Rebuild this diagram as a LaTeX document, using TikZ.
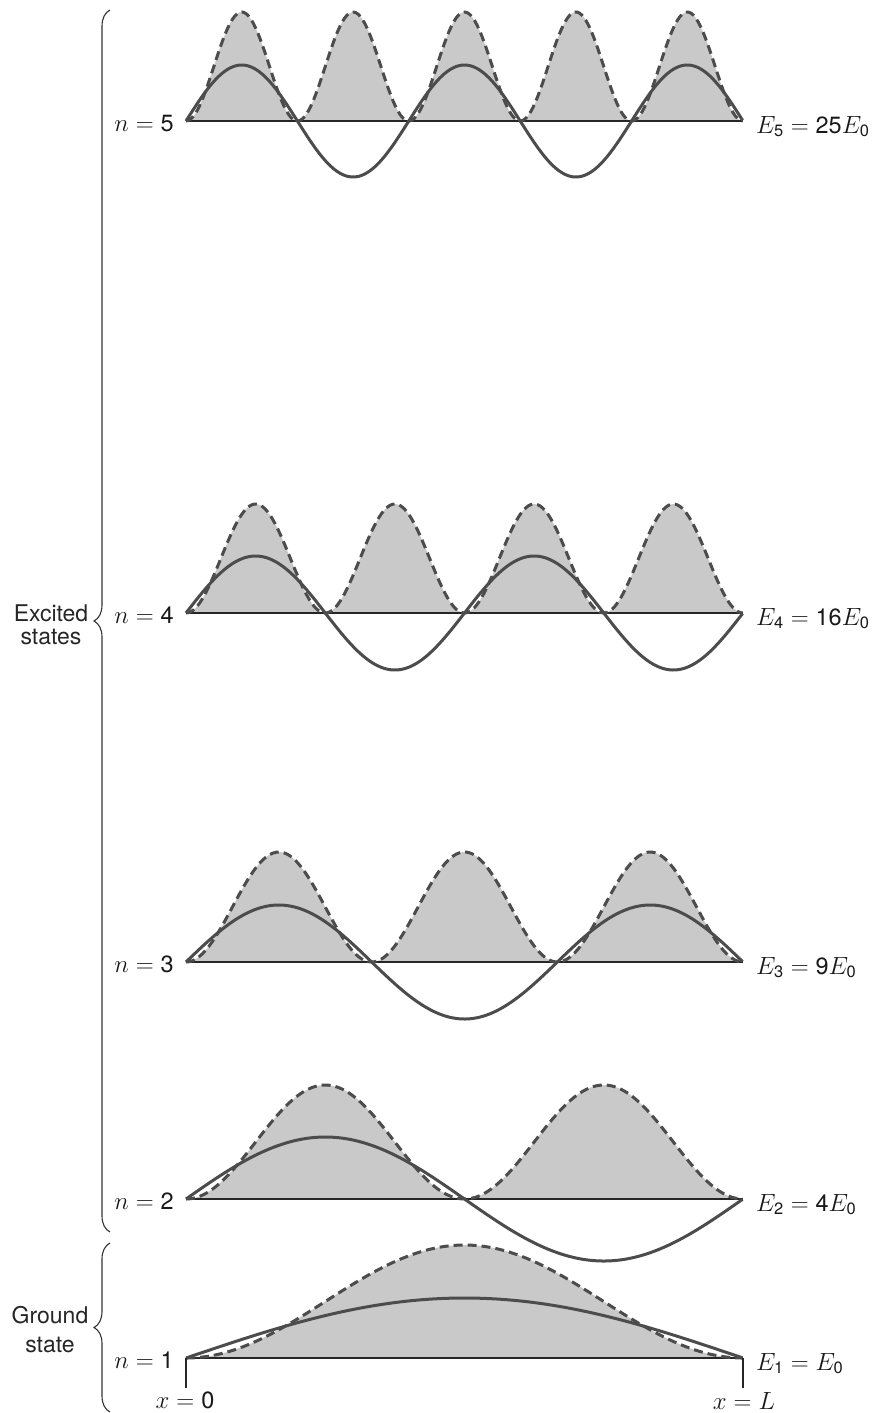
\documentclass[tikz,border=0pt]{standalone}
\usepackage{amsmath}
\usepackage{fontspec}
\setsansfont{TeX Gyre Heros}
\usetikzlibrary{decorations.pathreplacing}
\newcommand\dg[1]{\textsf{#1}}
\newcommand\wavelevel[5]{%
  \coordinate (a#1) at (186,#2);
  \coordinate (b#1) at (743,#2);
  \fill[pfill] plot[domain=0:1,samples=240] ({186+557*\x},{#2-#4*(sin(#1*180*\x))^2}) -- cycle;
  \draw[axisline] (a#1) -- (b#1);
  \draw[probline] plot[domain=0:1,samples=240] ({186+557*\x},{#2-#4*(sin(#1*180*\x))^2});
  \draw[psiline] plot[domain=0:1,samples=240] ({186+557*\x},{#2-#3*sin(#1*180*\x)});
  \node[lab, anchor=base east] (nl#1) at (174,#2+10.5) {$n = \dg{#1}$};
  \node[lab, anchor=base west] (el#1) at (756,#2+12) {#5};
}
\begin{document}
\begin{tikzpicture}[x=1pt,y=-1pt,
  psiline/.style={draw=black!70, line width=3pt},
  probline/.style={draw=black!70, line width=3pt, dash pattern=on 9pt off 5pt},
  pfill/.style={fill=black!21},
  axisline/.style={draw=black!85, line width=1.5pt},
  lab/.style={inner sep=0pt, font=\fontsize{23.5}{27}\selectfont, text=black!90},
  stext/.style={inner sep=0pt, align=center, text=black!85},
  brc/.style={draw=black!80, line width=1.1pt, decorate, decoration={brace, amplitude=16pt}},
]
\useasboundingbox (0,0) rectangle (872,1413);

\wavelevel{5}{121}{56}{109}{$E_{\dg{5}} = \dg{25}E_{\dg{0}}$}
\wavelevel{4}{613}{57}{109}{$E_{\dg{4}} = \dg{16}E_{\dg{0}}$}
\wavelevel{3}{962}{57}{110}{$E_{\dg{3}} = \dg{9}E_{\dg{0}}$}
\wavelevel{2}{1199}{62}{114}{$E_{\dg{2}} = \dg{4}E_{\dg{0}}$}
\wavelevel{1}{1358}{60}{113}{$E_{\dg{1}} = E_{\dg{0}}$}

% end ticks of the box
\coordinate (t0) at (186,1388);
\coordinate (tL) at (743,1388);
\draw[axisline] (a1) -- (t0);
\draw[axisline] (b1) -- (tL);
\node[lab, anchor=base] (x0) at (185,1408) {$x = \dg{0}$};
\node[lab, anchor=base] (xL) at (744,1409) {$x = L$};

% braces
\coordinate (eb) at (110,1232);
\coordinate (et) at (110,10);
\draw[brc] (eb) -- (et);
\node[stext, font=\sffamily\fontsize{23}{23}\selectfont] (exc) at (51,625) {Excited\\states};

\coordinate (gb) at (110,1412);
\coordinate (gt) at (110,1243);
\draw[brc] (gb) -- (gt);
\node[stext, font=\sffamily\fontsize{23}{29}\selectfont] (gnd) at (50,1330) {Ground\\state};
\end{tikzpicture}
\end{document}
